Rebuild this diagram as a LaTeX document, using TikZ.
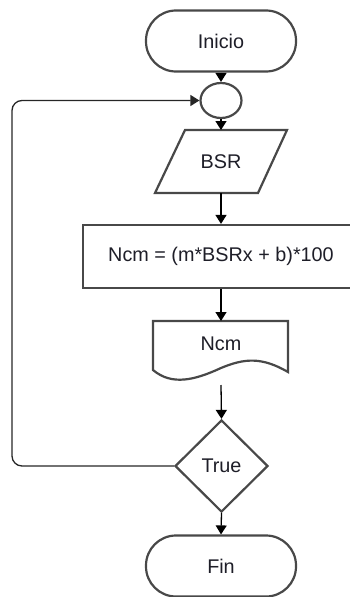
\documentclass[tikz,border=0pt]{standalone}
\usepackage{fontspec}
\setmainfont{Liberation Sans}
\usetikzlibrary{shapes.geometric,arrows.meta}
\definecolor{shapeline}{HTML}{484848}
\definecolor{txt}{HTML}{1E1E28}
\tikzset{
  shp/.style={draw=shapeline, line width=2.2pt, fill=white, text=txt, font=\fontsize{19.8}{22}\selectfont, inner sep=0pt},
  term/.style={shp, rectangle, rounded corners=30pt, minimum width=150pt, minimum height=61pt},
  lbl/.style={text=txt, font=\fontsize{19.8}{22}\selectfont, inner sep=0pt},
  conn/.style={draw=black, line width=1.3pt, -{Triangle[length=9pt,width=11pt]}},
  loopline/.style={draw=black!85, line width=1.3pt, rounded corners=10pt, -{Triangle[length=9pt,width=11pt]}}
}
\begin{document}
\begin{tikzpicture}[x=1pt,y=-1pt]
\useasboundingbox (0,0) rectangle (350,597);
% terminals
\node[term] (inicio) at (221,41) {Inicio};
\node[shp, ellipse, minimum width=41pt, minimum height=35pt] (join) at (221,100.5) {};
% parallelogram BSR
\draw[draw=shapeline, line width=2.2pt, fill=white] (185,130) -- (287,130) -- (258,193) -- (155,193) -- cycle;
\node[lbl, minimum width=102pt, minimum height=63pt] (bsr) at (221,161.5) {BSR};
% process
\node[shp, rectangle, minimum width=276pt, minimum height=63pt] (proc) at (221,256.5) {Ncm = (m*BSRx + b)*100};
% document
\draw[draw=shapeline, line width=2.2pt, fill=white] (153,321) -- (288,321) -- (288,372)
  .. controls (262,357) and (245,358) .. (221,368)
  .. controls (195,380) and (172,386) .. (153,370) -- cycle;
\node[lbl] (ncm) at (221,344) {Ncm};
\coordinate (doctop) at (221,321);
\coordinate (docbot) at (221,385);
% decision
\node[shp, diamond, minimum width=93pt, minimum height=92pt] (cond) at (221.5,466) {True};
% end
\node[term] (fin) at (221,566) {Fin};
% connectors
\draw[conn] (inicio.south) -- (join.north);
\draw[conn] (join.south) -- (221,130);
\draw[conn] (221,193) -- (proc.north);
\draw[conn] (proc.south) -- (doctop);
\draw[conn] (docbot) -- (cond.north);
\draw[conn] (cond.south) -- (fin.north);
\coordinate (lb) at (12,466);
\coordinate (lt) at (12,100.5);
\draw[loopline] (cond.west) -- (lb) -- (lt) -- (join.west);
\end{tikzpicture}
\end{document}
